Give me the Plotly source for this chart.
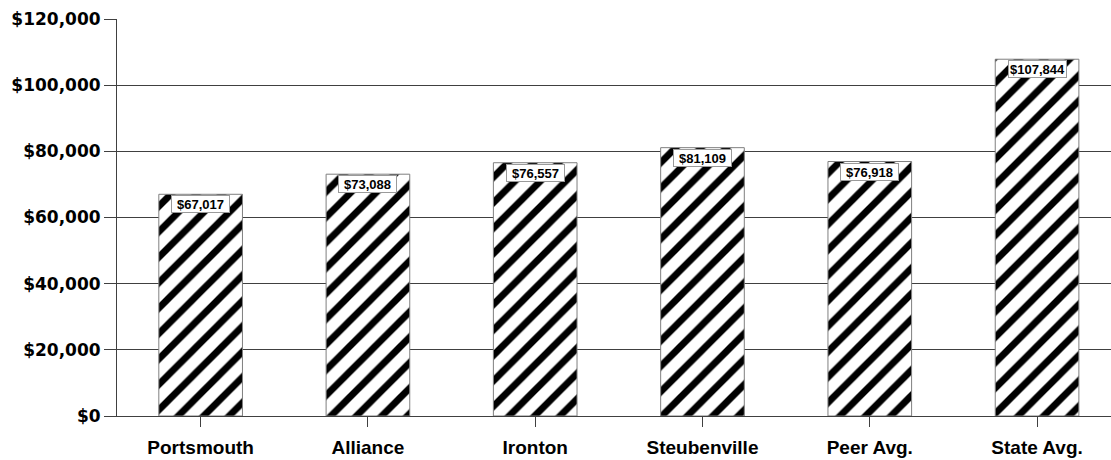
import plotly.graph_objects as go

# Average salary by district and comparison group
categories = ["Portsmouth", "Alliance", "Ironton", "Steubenville", "Peer Avg.", "State Avg."]
salaries = [67017, 73088, 76557, 81109, 76918, 107844]
y_ticks = [0, 20000, 40000, 60000, 80000, 100000, 120000]
y_tick_labels = ["$0", "$20,000", "$40,000", "$60,000", "$80,000", "$100,000", "$120,000"]

x_pos = list(range(len(categories)))

fig = go.Figure()
fig.add_trace(go.Bar(
    x=x_pos,
    y=salaries,
    width=0.5,
    marker=dict(
        color="white",
        line=dict(color="#7f7f7f", width=1),
        pattern=dict(shape="/", fgcolor="black", bgcolor="white",
                     size=18, solidity=0.38, fillmode="replace"),
    ),
    hoverinfo="skip",
))

# value labels in boxes at the top of each bar
for xi, v in zip(x_pos, salaries):
    fig.add_annotation(
        x=xi, y=v, xref="x", yref="y",
        text=f"${v:,}",
        showarrow=False,
        yanchor="top", yshift=-1,
        width=57, height=16,
        font=dict(family="Arial, Liberation Sans", size=13, color="black", weight="bold"),
        bgcolor="white", bordercolor="#9a9a9a", borderwidth=1, borderpad=0,
    )

fig.update_layout(
    width=1111, height=460,
    margin=dict(l=117, r=0, t=19, b=44),
    paper_bgcolor="white", plot_bgcolor="white",
    showlegend=False,
    bargap=0.5,
)

fig.update_xaxes(
    range=[-0.5, 5.442],
    tickmode="array", tickvals=x_pos, ticktext=categories,
    ticks="outside", ticklen=10, tickcolor="#404040", tickwidth=1,
    showline=True, linecolor="#404040", linewidth=1,
    showgrid=False, zeroline=False,
    tickfont=dict(family="Arial, Liberation Sans", size=19, color="black", weight="bold"),
    ticklabelstandoff=4,
)

fig.update_yaxes(
    range=[0, 120000],
    tickmode="array", tickvals=y_ticks, ticktext=y_tick_labels,
    ticks="outside", ticklen=12, tickcolor="#404040", tickwidth=1,
    showline=True, linecolor="#404040", linewidth=1,
    showgrid=True, gridcolor="#404040", gridwidth=1,
    zeroline=False,
    tickfont=dict(family="DejaVu Sans", size=17, color="black", weight="bold"),
)

fig.write_html("out.html")
